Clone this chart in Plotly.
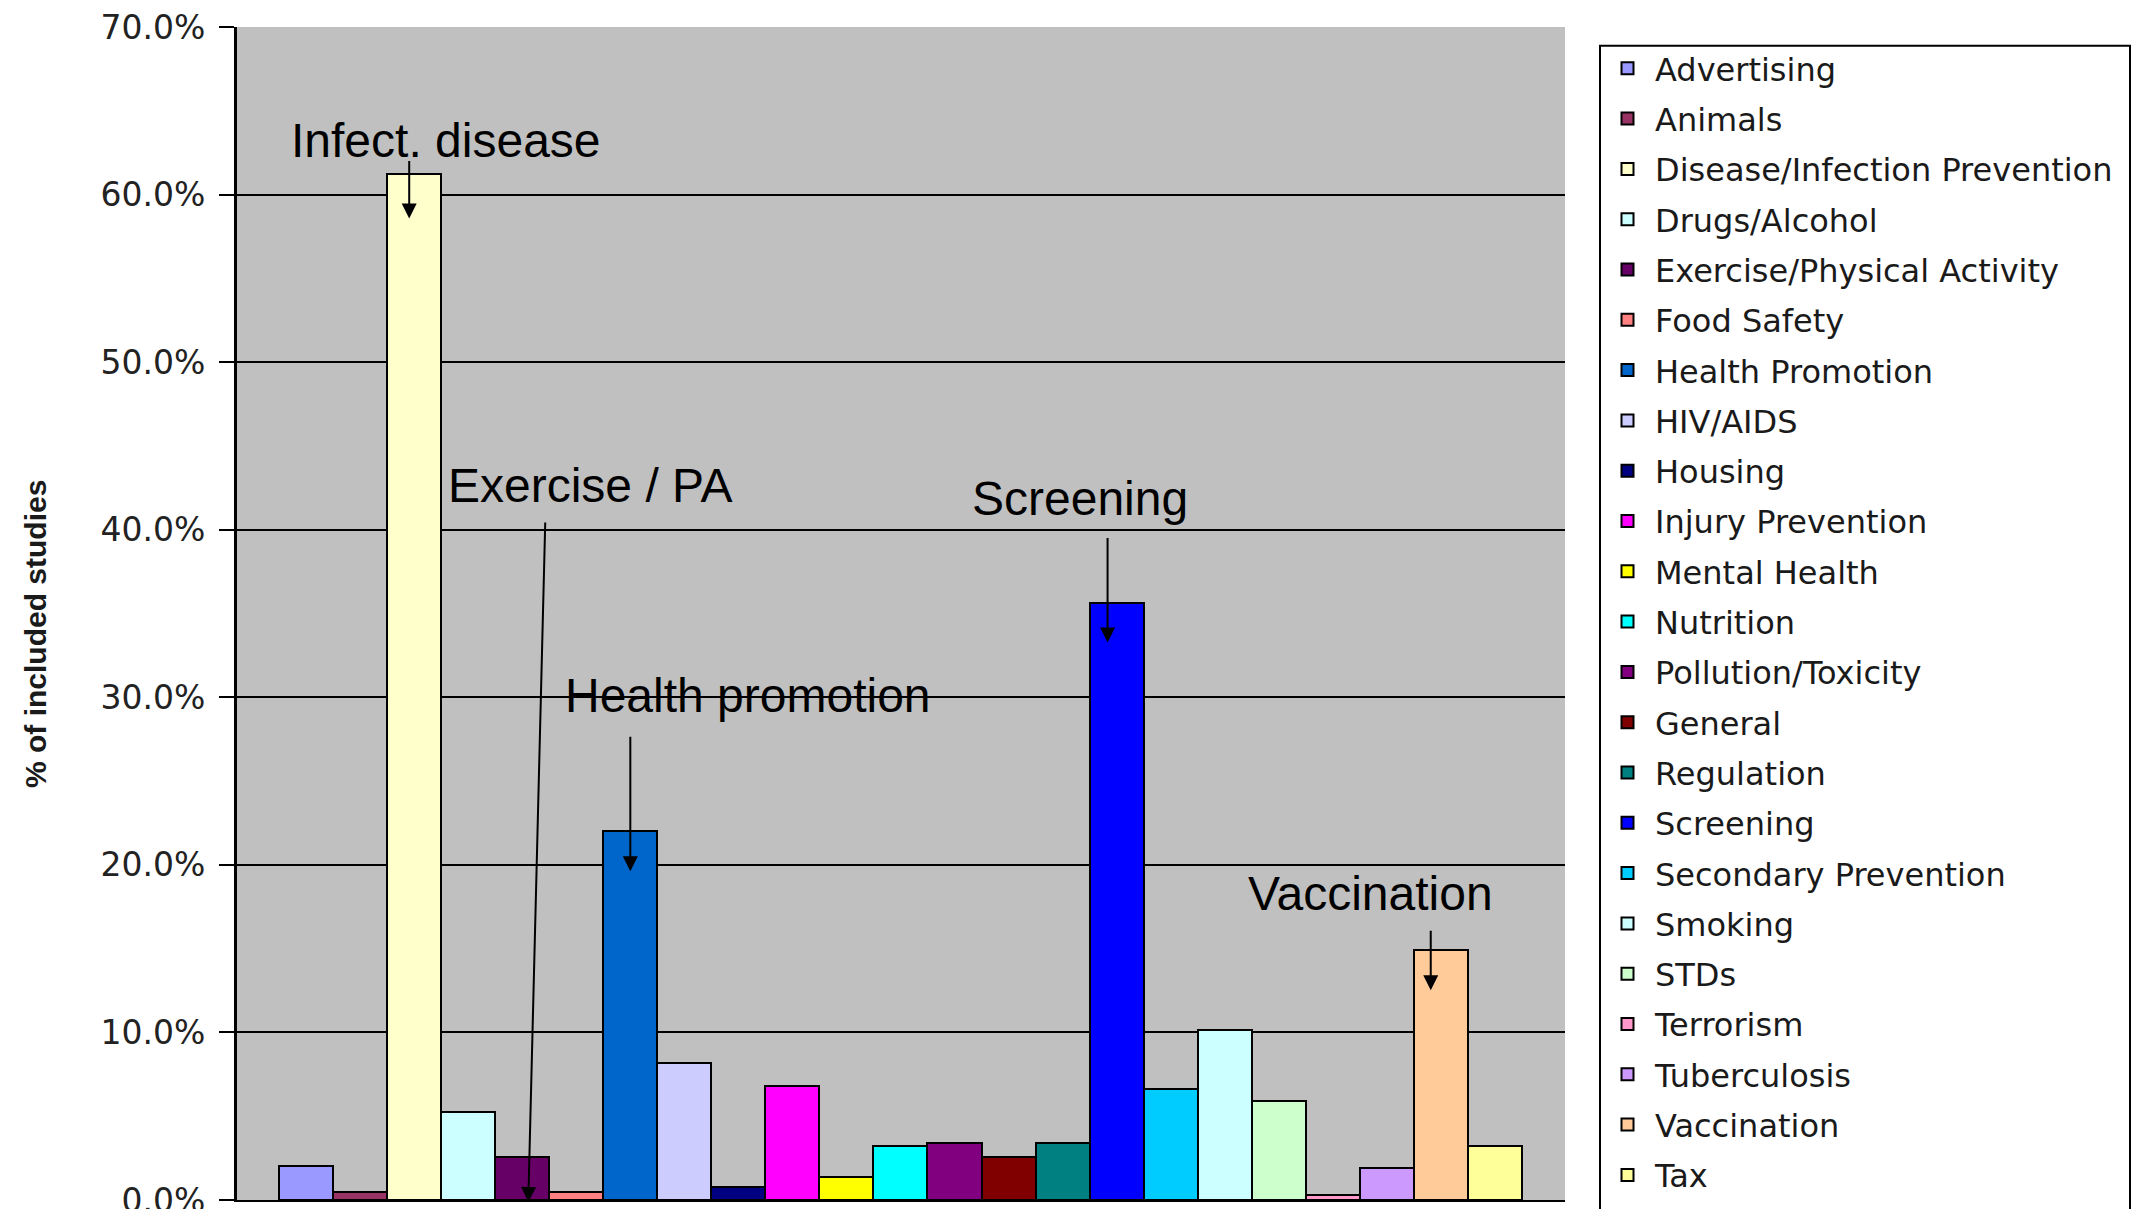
import plotly.graph_objects as go

# Share of included studies by topic (%)
topics = [
    "Advertising", "Animals", "Disease/Infection Prevention", "Drugs/Alcohol",
    "Exercise/Physical Activity", "Food Safety", "Health Promotion", "HIV/AIDS",
    "Housing", "Injury Prevention", "Mental Health", "Nutrition",
    "Pollution/Toxicity", "General", "Regulation", "Screening",
    "Secondary Prevention", "Smoking", "STDs", "Terrorism", "Tuberculosis",
    "Vaccination", "Tax",
]
share = [
    2.0, 0.5, 61.2, 5.25, 2.55, 0.5, 22.0, 8.15, 0.8, 6.8, 1.4, 3.25,
    3.4, 2.55, 3.4, 35.6, 6.65, 10.15, 5.9, 0.3, 1.9, 14.9, 3.25,
]
colors = [
    "#9999FF", "#993366", "#FFFFCC", "#CCFFFF", "#660066", "#FF8080",
    "#0066CC", "#CCCCFF", "#000080", "#FF00FF", "#FFFF00", "#00FFFF",
    "#800080", "#800000", "#008080", "#0000FF", "#00CCFF", "#CCFFFF",
    "#CCFFCC", "#FF99CC", "#CC99FF", "#FFCC99", "#FFFF99",
]

# Callouts: label, topic pointed at, label centre (px), arrow tail offset,
# x nudge, y nudge, whether the arrow ends at the bar top (else at the axis)
callouts = [
    ("Infect. disease", "Disease/Infection Prevention", (446, 140), (0, -59), -5, -44, True),
    ("Exercise / PA", "Exercise/Physical Activity", (590, 486), (17, -681), 6, -2, False),
    ("Health promotion", "Health Promotion", (748, 695), (0, -136), 0, -40, True),
    ("Screening", "Screening", (1080, 498), (0, -106), -9, -39, True),
    ("Vaccination", "Vaccination", (1370, 893), (0, -61), -10, -40, True),
]

W, H = 2138, 1209
L, R, T, B = 237, 573, 27, 9
PW, PH = W - L - R, H - T - B


def px_x(px):
    return (px - L) / PW


def px_y(py):
    return (H - B - py) / PH


fig = go.Figure()
for name, val, col in zip(topics, share, colors):
    fig.add_trace(go.Bar(
        x=[name], y=[val], name=name, legendgroup=name,
        marker=dict(color=col, line=dict(color="black", width=2)),
        hoverinfo="name+y",
    ))

annotations = []
for label, topic, (cx, cy), (ax, ay), xs, ys, at_top in callouts:
    annotations.append(dict(
        x=px_x(cx), y=px_y(cy), xref="paper", yref="paper",
        text=label, showarrow=False, xanchor="center", yanchor="middle",
        font=dict(family="Liberation Sans, Arial, sans-serif", size=48, color="black"),
    ))
    annotations.append(dict(
        x=topic, y=share[topics.index(topic)] if at_top else 0,
        xref="x", yref="y", text="", showarrow=True,
        ax=ax, ay=ay, axref="pixel", ayref="pixel",
        xshift=xs, yshift=ys,
        arrowhead=2, arrowsize=1.5, arrowwidth=2, arrowcolor="black",
    ))

annotations.append(dict(
    x=px_x(35), y=px_y(634), xref="paper", yref="paper",
    text="<b>% of included studies</b>", showarrow=False, textangle=-90,
    xanchor="center", yanchor="middle",
    font=dict(family="Liberation Sans, Arial, sans-serif", size=30, color="#1a1a1a"),
))

fig.update_layout(
    width=W, height=H,
    margin=dict(l=L, r=R, t=T, b=B, autoexpand=False),
    paper_bgcolor="white", plot_bgcolor="#C0C0C0",
    barmode="overlay", bargap=0,
    showlegend=True,
    legend=dict(
        x=px_x(1600), y=px_y(41), xanchor="left", yanchor="top",
        bgcolor="rgba(0,0,0,0)", borderwidth=0,
        font=dict(family="DejaVu Sans, sans-serif", size=32, color="#1a1a1a"),
        itemwidth=45, traceorder="grouped", tracegroupgap=5.7,
        itemclick=False, itemdoubleclick=False,
    ),
    xaxis=dict(
        type="category", categoryorder="array", categoryarray=topics,
        range=[-1.28, 23.3], showticklabels=False, ticks="",
        showgrid=False, zeroline=False,
        showline=True, linecolor="black", linewidth=2,
    ),
    yaxis=dict(
        range=[0, 70], dtick=10, tickformat=".1f", ticksuffix="%",
        showgrid=True, gridcolor="black", gridwidth=2,
        zeroline=False, showline=True, linecolor="black", linewidth=3,
        ticks="outside", ticklen=15, tickwidth=2, tickcolor="black",
        ticklabelstandoff=7, ticklabeloverflow="allow",
        tickfont=dict(family="DejaVu Sans, sans-serif", size=33, color="#222222"),
    ),
    shapes=[dict(
        type="rect", xref="paper", yref="paper",
        x0=px_x(1600), x1=px_x(2130), y0=px_y(1215), y1=px_y(45.7),
        line=dict(color="black", width=2), fillcolor="rgba(0,0,0,0)",
    )],
    annotations=annotations,
)

fig.write_html("out.html")
